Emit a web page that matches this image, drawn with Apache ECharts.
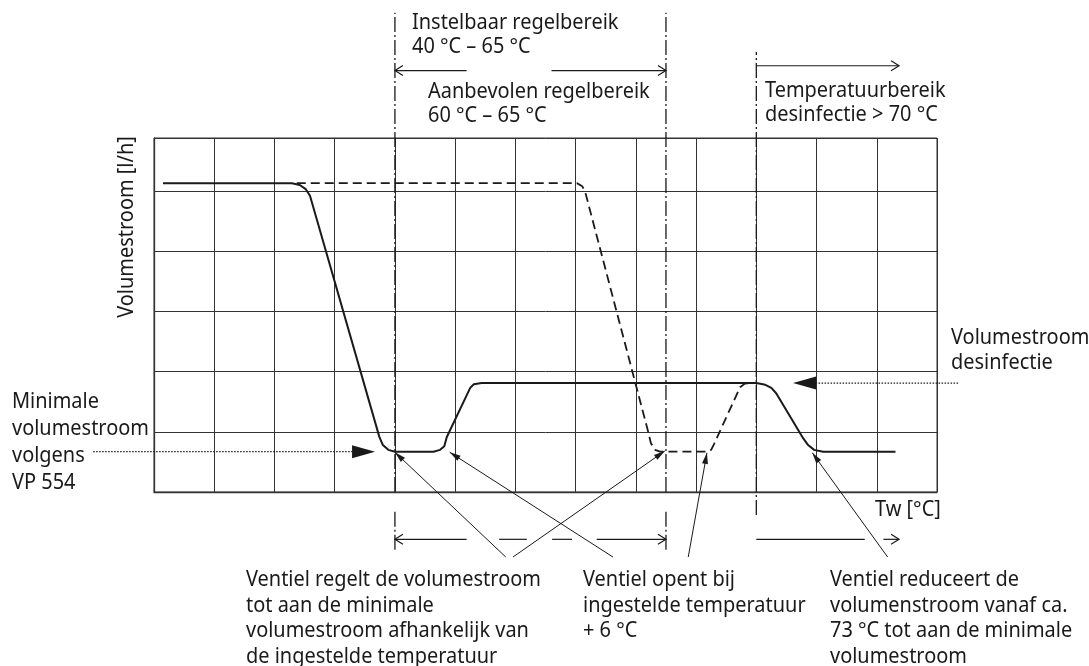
<!DOCTYPE html>
<html>
<head>
<meta charset="utf-8">
<script src="https://cdn.jsdelivr.net/npm/echarts@6/dist/echarts.min.js"></script>
<style>
html,body{margin:0;padding:0;background:#fff;}
#chart{width:1089px;height:666px;}
</style>
</head>
<body>
<div id="chart"></div>
<script>
// ---- Data (grid units: x = temperature columns, y = volume-flow rows) ----
const solidCurve = [
  [0.15,5.13],[2.29,5.13],[2.42,5.10],[2.52,5.03],[2.59,4.92],
  [3.74,0.92],[3.80,0.78],[3.89,0.70],[4.00,0.67],
  [4.64,0.67],[4.75,0.70],[4.82,0.76],[4.86,0.91],
  [5.25,1.73],[5.31,1.79],[5.44,1.81],
  [10.00,1.81],[10.15,1.78],[10.25,1.73],[10.33,1.64],
  [10.78,0.89],[10.86,0.78],[10.96,0.70],[11.11,0.67],[12.31,0.67]
];
const dashedCurve = [
  [2.37,5.13],[7.02,5.13],[7.11,5.08],[7.16,4.98],
  [8.21,0.98],[8.25,0.81],[8.32,0.70],[8.40,0.67],
  [9.18,0.67],[9.25,0.70],[9.30,0.80],
  [9.73,1.74],[9.81,1.80],[9.91,1.81]
];
// dash-dot range boundaries: [x, yTop, yBottom]
const rangeLines = [
  [4.0, 7.96, 0], [4.0, -0.28, -0.96],
  [8.5, 7.96, 0], [8.5, -0.28, -0.96],
  [10.0, 7.31, 0], [10.0, 0, -0.38]
];
// range arrows: [y, segments, headLeft, headRight]
const rangeArrows = [
  [7.0, [[4.0,5.19],[6.60,8.5]], true, true],
  [7.08, [[10.0,12.37]], false, true],
  [-0.786, [[4.0,5.19],[5.73,6.19],[6.61,6.94],[7.35,8.5]], true, true],
  [-0.786, [[10.0,11.80],[12.11,12.37]], false, true]
];
// leader lines: [tailX, tailY, headX, headY]
const leaders = [
  [5.84,-1.08,4.00,0.66],
  [7.62,-1.08,4.91,0.66],
  [5.96,-1.08,8.48,0.68],
  [8.87,-1.08,9.18,0.65],
  [12.18,-1.08,10.93,0.65]
];
// dotted arrows: [fromX, tipX, y]
const dottedArrows = [
  [-1.01, 3.67, 0.67],
  [13.35, 10.61, 1.81]
];
const xMax = 13, yMax = 5.88;

const labels = {
  yName: 'Volumestroom [l/h]',
  xName: 'Tw [°C]',
  adjustable: ['Instelbaar regelbereik', '40 °C – 65 °C'],
  recommended: ['Aanbevolen regelbereik', '60 °C – 65 °C'],
  disinfRange: ['Temperatuurbereik', 'desinfectie > 70 °C'],
  disinfFlow: ['Volumestroom', 'desinfectie'],
  minFlow: ['Minimale', 'volumestroom', 'volgens', 'VP 554'],
  note1: ['Ventiel regelt de volumestroom', 'tot aan de minimale', 'volumestroom afhankelijk van', 'de ingestelde temperatuur'],
  note2: ['Ventiel opent bij', 'ingestelde temperatuur', '+ 6 °C'],
  note3: ['Ventiel reduceert de', 'volumenstroom vanaf ca.', '73 °C tot aan de minimale', 'volumestroom']
};

const INK = '#1a1a1a', GRID = '#333';
const FONT = 'Noto Sans';
const FS = 21, SX = 0.95;

const chart = echarts.init(document.getElementById('chart'), null, {renderer: 'canvas'});
chart.setOption({
  animation: false,
  backgroundColor: '#fff',
  grid: {left: 154, top: 138, width: 783, height: 354, show: true, borderColor: GRID, borderWidth: 1, backgroundColor: 'transparent'},
  xAxis: {type: 'value', min: 0, max: xMax, interval: 1,
    axisLine: {show: true, onZero: false, lineStyle: {color: GRID, width: 1.3}},
    axisTick: {show: false}, axisLabel: {show: false},
    splitLine: {show: true, lineStyle: {color: GRID, width: 1}}},
  yAxis: {type: 'value', min: 0, max: yMax, interval: 1,
    axisLine: {show: true, onZero: false, lineStyle: {color: GRID, width: 1.3}},
    axisTick: {show: false}, axisLabel: {show: false},
    splitLine: {show: true, lineStyle: {color: GRID, width: 1}}},
  series: [
    {type: 'line', data: solidCurve, symbol: 'none', z: 5,
      lineStyle: {color: INK, width: 2, join: 'round'}},
    {type: 'line', data: dashedCurve, symbol: 'none', z: 5,
      lineStyle: {color: INK, width: 1.8, type: [9, 5]}}
  ]
});

const P = (x, y) => chart.convertToPixel({gridIndex: 0}, [x, y]);
const g = [];
function line(p1, p2, style) {
  g.push({type: 'line', z: 10, shape: {x1: p1[0], y1: p1[1], x2: p2[0], y2: p2[1]},
    style: Object.assign({stroke: INK, lineWidth: 1}, style || {})});
}
function chevron(tip, dir, len, half) {
  const bx = tip[0] - dir[0]*len, by = tip[1] - dir[1]*len;
  const nx = -dir[1], ny = dir[0];
  g.push({type: 'polyline', z: 10, shape: {points: [[bx+nx*half, by+ny*half], tip, [bx-nx*half, by-ny*half]]},
    style: {stroke: INK, lineWidth: 1.2, fill: null}});
}
function filledHead(tip, dir, len, half) {
  const bx = tip[0] - dir[0]*len, by = tip[1] - dir[1]*len;
  const nx = -dir[1], ny = dir[0];
  g.push({type: 'polygon', z: 11, shape: {points: [[bx+nx*half, by+ny*half], tip, [bx-nx*half, by-ny*half]]},
    style: {fill: INK, stroke: null}});
}
rangeLines.forEach(r => line(P(r[0], r[2]), P(r[0], r[1]), {lineWidth: 1.3, lineDash: [15, 3, 2, 3]}));
rangeArrows.forEach(a => {
  const y = a[0], segs = a[1];
  segs.forEach(s => line(P(s[0], y), P(s[1], y), {lineWidth: 1.2}));
  if (a[2]) chevron(P(segs[0][0], y), [-1, 0], 8, 5);
  if (a[3]) chevron(P(segs[segs.length-1][1], y), [1, 0], 8, 5);
});
leaders.forEach(l => {
  const t = P(l[0], l[1]), h = P(l[2], l[3]);
  line(t, h, {lineWidth: 1});
  const dx = h[0]-t[0], dy = h[1]-t[1], d = Math.hypot(dx, dy);
  filledHead(h, [dx/d, dy/d], 11, 3);
});
dottedArrows.forEach(a => {
  const from = P(a[0], a[2]), tip = P(a[1], a[2]);
  const dir = Math.sign(tip[0]-from[0]);
  const base = [tip[0] - dir*23, tip[1]];
  line(from, base, {lineWidth: 1.2, lineDash: [1.5, 1.5]});
  filledHead(tip, [dir, 0], 23, 6.5);
});
function textBlock(lines, x, y0, step) {
  lines.forEach((t, i) => g.push({type: 'text', z: 12, x: x, y: y0 + i*step, scaleX: SX,
    style: {text: t, fill: INK, font: FS + 'px "' + FONT + '"', textAlign: 'left', textVerticalAlign: 'middle'}}));
}
textBlock(labels.adjustable, 412, 23, 24.5);
textBlock(labels.recommended, 428, 92, 24);
textBlock(labels.disinfRange, 765, 91, 24);
textBlock(labels.disinfFlow, 951, 338, 25);
textBlock(labels.minFlow, 12, 402.5, 26.7);
textBlock(labels.note1, 246, 580, 25.6);
textBlock(labels.note2, 583, 580, 25.6);
textBlock(labels.note3, 830, 580, 25.6);
textBlock([labels.xName], 875, 510, 0);
g.push({type: 'text', z: 12, x: 127, y: 227, rotation: Math.PI/2, scaleX: SX,
  style: {text: labels.yName, fill: INK, font: FS + 'px "' + FONT + '"', textAlign: 'center', textVerticalAlign: 'middle'}});
chart.setOption({graphic: g});
</script>
</body>
</html>
